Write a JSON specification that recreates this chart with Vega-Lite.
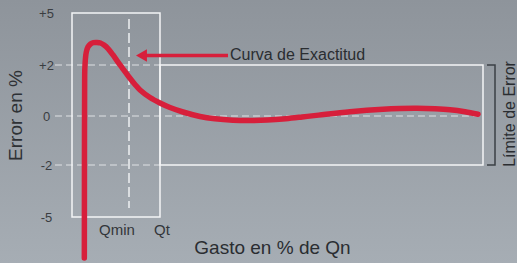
{
  "$schema": "https://vega.github.io/schema/vega-lite/v6.json",
  "width": 517,
  "height": 263,
  "autosize": "none",
  "padding": 0,
  "background": "#9aa1a8",
  "config": {
    "view": {
      "stroke": null,
      "fill": {"gradient": "linear", "x1": 0, "y1": 0, "x2": 0, "y2": 1,
        "stops": [{"offset": 0, "color": "#8e949b"}, {"offset": 1, "color": "#a6adb4"}]}
    },
    "font": "Liberation Sans",
    "text": {"font": "Liberation Sans"}
  },
  "encoding": {
    "x": {"field": "x", "type": "quantitative", "axis": null,
      "scale": {"domain": [0, 100], "range": [72, 483], "nice": false, "zero": false}},
    "y": {"field": "y", "type": "quantitative",
      "scale": {"domain": [-5, -2, 0, 2, 5], "range": [217, 165, 116, 65, 13], "nice": false, "zero": false},
      "axis": {
        "values": [-5, -2, 0, 2, 5],
        "labelExpr": "datum.value > 0 ? '+' + datum.value : '' + datum.value",
        "offset": -55, "domain": false, "ticks": false, "grid": false,
        "labelAlign": "center", "labelPadding": 9, "labelBaseline": "middle",
        "labelFontSize": 13, "labelColor": "#3a3d41", "labelFont": "Liberation Sans",
        "title": "Error en %", "titleFontSize": 19, "titleFontWeight": "normal",
        "titleColor": "#2e3135", "titleFont": "Liberation Sans",
        "titleX": -40, "titleY": 115, "titleAngle": 270, "titleBaseline": "middle", "titleAlign": "center"
      }}
  },
  "layer": [
    {
      "data": {"values": [
        {"x": -4.14, "x2": 21.41, "y": 2},
        {"x": -4.14, "x2": 100, "y": 0},
        {"x": -4.14, "x2": 21.41, "y": -2}
      ]},
      "mark": {"type": "rule", "color": "#e6e8ea", "strokeWidth": 1.2, "strokeDash": [7, 4], "opacity": 0.9},
      "encoding": {"x2": {"field": "x2"}}
    },
    {
      "data": {"values": [{"x": 13.87, "y": 4.65, "y2": -4.48}]},
      "mark": {"type": "rule", "color": "#eef0f2", "strokeWidth": 1.5, "strokeDash": [10, 4]},
      "encoding": {"y2": {"field": "y2"}}
    },
    {
      "data": {"values": [
        {"x": 0, "x2": 21.41, "y": -5, "y2": 5},
        {"x": 21.41, "x2": 100, "y": -2, "y2": 2}
      ]},
      "mark": {"type": "rect", "fill": null, "fillOpacity": 0, "stroke": "#f4f5f6", "strokeWidth": 1.5},
      "encoding": {"x2": {"field": "x2"}, "y2": {"field": "y2"}}
    },
    {
      "data": {"values": [
        {"x": 100.97, "y": 2, "o": 1},
        {"x": 102.92, "y": 2, "o": 2},
        {"x": 102.92, "y": -2, "o": 3},
        {"x": 100.97, "y": -2, "o": 4}
      ]},
      "mark": {"type": "line", "color": "#3b4046", "strokeWidth": 1.5},
      "encoding": {"order": {"field": "o", "type": "quantitative"}}
    },
    {
      "data": {"values": [
        {"x": 3.0, "y": -7.37}, {"x": 3.02, "y": -4.02}, {"x": 3.04, "y": -0.571},
        {"x": 3.07, "y": 1.02}, {"x": 3.11, "y": 1.80}, {"x": 3.24, "y": 2.29},
        {"x": 3.48, "y": 2.75}, {"x": 3.89, "y": 3.04}, {"x": 4.50, "y": 3.21},
        {"x": 5.23, "y": 3.29}, {"x": 6.08, "y": 3.30}, {"x": 6.93, "y": 3.27},
        {"x": 7.79, "y": 3.15}, {"x": 8.76, "y": 2.95}, {"x": 9.98, "y": 2.58},
        {"x": 11.19, "y": 2.17}, {"x": 12.17, "y": 1.90}, {"x": 13.87, "y": 1.53},
        {"x": 15.33, "y": 1.235}, {"x": 16.55, "y": 1.02}, {"x": 18.98, "y": 0.725},
        {"x": 21.41, "y": 0.51}, {"x": 23.84, "y": 0.333}, {"x": 27.01, "y": 0.157},
        {"x": 31.14, "y": -0.02}, {"x": 34.79, "y": -0.114}, {"x": 39.17, "y": -0.171},
        {"x": 43.31, "y": -0.184}, {"x": 47.5, "y": -0.165}, {"x": 52.0, "y": -0.11},
        {"x": 56.0, "y": -0.04}, {"x": 60.0, "y": 0.035}, {"x": 67.64, "y": 0.169},
        {"x": 75.67, "y": 0.267}, {"x": 79.81, "y": 0.294}, {"x": 83.94, "y": 0.302},
        {"x": 88.32, "y": 0.282}, {"x": 91.97, "y": 0.243}, {"x": 95.62, "y": 0.165},
        {"x": 98.78, "y": 0.067}
      ]},
      "mark": {"type": "line", "color": "#d71f3b", "strokeWidth": 5.5, "strokeCap": "round", "strokeJoin": "round", "interpolate": "catmull-rom"},
      "encoding": {}
    },
    {
      "data": {"values": [{"x": 17.5, "x2": 37.96, "y": 2.55}]},
      "mark": {"type": "rule", "color": "#d71f3b", "strokeWidth": 3.5},
      "encoding": {"x2": {"field": "x2"}}
    },
    {
      "data": {"values": [{"x": 16.9, "y": 2.55}]},
      "mark": {"type": "point", "shape": "triangle-left", "filled": true, "color": "#d71f3b", "size": 160, "opacity": 1},
      "encoding": {}
    },
    {
      "data": {"values": [{"x": 38.44, "y": 2.55, "t": "Curva de Exactitud"}]},
      "mark": {"type": "text", "align": "left", "baseline": "middle", "fontSize": 16, "color": "#2a2d31", "font": "Liberation Sans"},
      "encoding": {"text": {"field": "t"}}
    },
    {
      "data": {"values": [
        {"x": 10.95, "y": -5.75, "t": "Qmin"},
        {"x": 21.9, "y": -5.75, "t": "Qt"}
      ]},
      "mark": {"type": "text", "align": "center", "baseline": "middle", "fontSize": 15, "color": "#33363a", "font": "Liberation Sans"},
      "encoding": {"text": {"field": "t"}}
    },
    {
      "data": {"values": [{"x": 48.78, "y": -6.79, "t": "Gasto en % de Qn"}]},
      "mark": {"type": "text", "align": "center", "baseline": "middle", "fontSize": 19, "color": "#2a2d31", "font": "Liberation Sans"},
      "encoding": {"text": {"field": "t"}}
    },
    {
      "data": {"values": [{"x": 107.7, "y": 0.08, "t": "Límite de Error"}]},
      "mark": {"type": "text", "align": "center", "baseline": "alphabetic", "angle": 270, "fontSize": 16, "color": "#2a2d31", "font": "Liberation Sans"},
      "encoding": {"text": {"field": "t"}}
    }
  ]
}
